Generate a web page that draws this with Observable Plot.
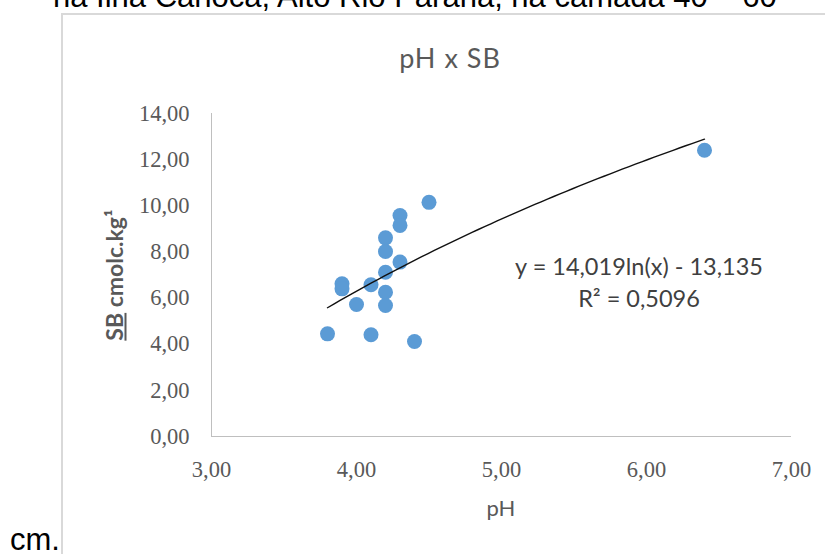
<!DOCTYPE html>
<html>
<head>
<meta charset="utf-8">
<script src="https://cdn.jsdelivr.net/npm/d3@7"></script>
<script src="https://cdn.jsdelivr.net/npm/@observablehq/plot@0.6"></script>
<style>
  html, body { margin: 0; padding: 0; background: #fff; overflow: hidden; width: 825px; height: 554px; }
  #wrap { position: relative; width: 825px; height: 554px; overflow: hidden; background: #fff; }
  #wrap svg { position: absolute; left: 0; top: 0; }
  .abs { position: absolute; white-space: nowrap; line-height: 1; }
</style>
</head>
<body>
<div id="wrap"></div>
<script>
// ---- data ----
const phValues = [4.5, 4.3, 4.3, 4.2, 4.2, 4.3, 4.2, 3.9, 3.9, 4.1, 4.2, 4.0, 4.2, 3.8, 4.1, 4.4, 6.4];
const sbValues = [10.15, 9.58, 9.15, 8.61, 8.02, 7.56, 7.12, 6.62, 6.40, 6.58, 6.25, 5.72, 5.68, 4.45, 4.41, 4.12, 12.41];
const xTicks = [3, 4, 5, 6, 7];
const yTicks = [0, 2, 4, 6, 8, 10, 12, 14];
const trendA = 14.019;   // y = a ln(x) + b
const trendB = -13.135;
const chartTitle = "pH x SB";
const xLabel = "pH";
const eqLine1 = "y = 14,019ln(x) - 13,135";
const eqLine2 = "R² = 0,5096";
const docLineTop = "na Ilha Carioca, Alto Rio Paraná, na camada 40 – 60";
const docLineBottom = "cm.";

const points = phValues.map((x, i) => ({ph: x, sb: sbValues[i]}));
const [xMin, xMax] = d3.extent(phValues);
const trend = d3.range(0, 61).map(i => {
  const x = xMin + (xMax - xMin) * i / 60;
  return {ph: x, sb: trendA * Math.log(x) + trendB};
});
const fmt = d => d.toFixed(2).replace(".", ",");

const tickFont = "Liberation Serif";
const tickSize = 22.5;
const plot = Plot.plot({
  width: 825,
  height: 554,
  marginLeft: 211,
  marginRight: 34,
  marginTop: 113,
  marginBottom: 118,
  style: {fontFamily: tickFont, fontSize: tickSize + "px", color: "#595959", background: "transparent"},
  x: {domain: [3, 7]},
  y: {domain: [0, 14]},
  marks: [
    Plot.ruleY([0], {stroke: "#bfbfbf", strokeWidth: 1}),
    Plot.ruleX([3], {stroke: "#bfbfbf", strokeWidth: 1}),
    Plot.axisX({ticks: xTicks, tickFormat: fmt, tickSize: 0, tickPadding: 25, label: null, fill: "#595959", fontSize: tickSize, fontFamily: tickFont}),
    Plot.axisY({ticks: yTicks, tickFormat: fmt, tickSize: 0, tickPadding: 22, label: null, fill: "#595959", fontSize: tickSize, fontFamily: tickFont}),
    Plot.dot(points, {x: "ph", y: "sb", r: 7.5, fill: "#5B9BD5", stroke: "none"}),
    Plot.line(trend, {x: "ph", y: "sb", stroke: "#111", strokeWidth: 1.4})
  ]
});
const wrap = document.getElementById("wrap");
wrap.appendChild(plot);

function addDiv(text, css, html) {
  const d = document.createElement("div");
  d.className = "abs";
  if (html) d.innerHTML = html; else d.textContent = text;
  Object.assign(d.style, css);
  wrap.appendChild(d);
  return d;
}

// chart area border (Excel chart frame)
addDiv("", {left: "61px", top: "13px", width: "820px", height: "600px",
  borderLeft: "2px solid #d9d9d9", borderTop: "2px solid #d9d9d9", boxSizing: "border-box"});

// document text around the chart
addDiv(docLineTop, {left: "53px", top: "-19px", fontFamily: "Liberation Sans", fontSize: "31px", color: "#000"});
addDiv(docLineBottom, {left: "10px", top: "524px", fontFamily: "Liberation Sans", fontSize: "31px", color: "#000"});

// chart title
addDiv(chartTitle, {left: "250px", width: "400px", textAlign: "center", top: "44px",
  fontFamily: "Lato", fontSize: "27px", letterSpacing: "1px", color: "#595959"});

// x axis label
addDiv(xLabel, {left: "401px", width: "200px", textAlign: "center", top: "497px",
  fontFamily: "Lato", fontSize: "22px", color: "#595959"});

// y axis label (rotated)
addDiv("", {left: "113.8px", top: "275px", width: "220px", textAlign: "center",
  transform: "translate(-50%, -50%) rotate(-90deg)",
  fontFamily: "Lato", fontWeight: "bold", fontSize: "23px", color: "#595959"},
  '<span style="text-decoration:underline">SB</span> cmolc.kg¹');

// trendline equation
addDiv(eqLine1, {left: "439px", width: "400px", textAlign: "center", top: "255px",
  fontFamily: "Lato", fontSize: "23.5px", color: "#404040"});
addDiv(eqLine2, {left: "439px", width: "400px", textAlign: "center", top: "287px",
  fontFamily: "Lato", fontSize: "23.5px", color: "#404040"});
</script>
</body>
</html>
